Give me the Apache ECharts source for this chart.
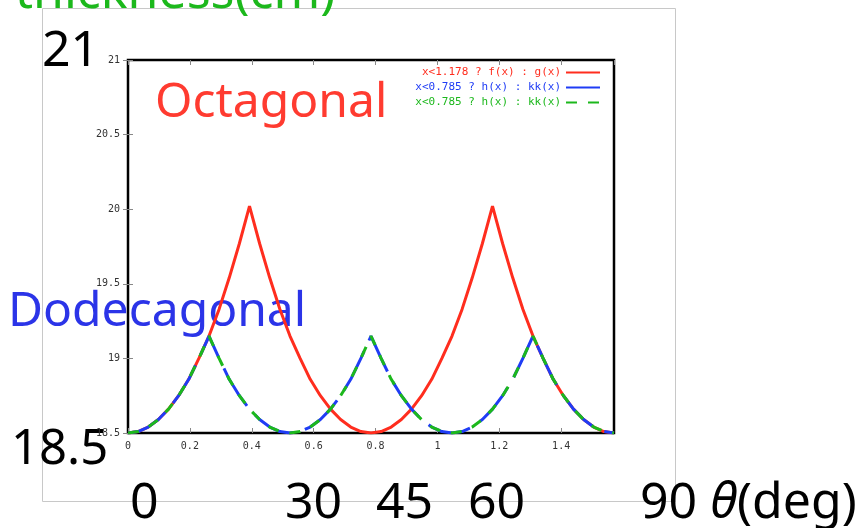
<!DOCTYPE html>
<html>
<head>
<meta charset="utf-8">
<script src="https://cdn.jsdelivr.net/npm/echarts@6/dist/echarts.min.js"></script>
<style>
  html, body { margin: 0; padding: 0; background: #fff; }
  #chart { width: 858px; height: 528px; }
</style>
</head>
<body>
<div id="chart"></div>
<script>
// theta (rad), sampled every pi/96
const thetaRad = [0, 0.0327, 0.0654, 0.0982, 0.1309, 0.1636, 0.1963, 0.2291, 0.2618, 0.2945, 0.3272,
  0.36, 0.3927, 0.4254, 0.4581, 0.4909, 0.5236, 0.5563, 0.589, 0.6218, 0.6545, 0.6872, 0.7199, 0.7527,
  0.7854, 0.8181, 0.8508, 0.8836, 0.9163, 0.949, 0.9817, 1.0145, 1.0472, 1.0799, 1.1126, 1.1454, 1.1781,
  1.2108, 1.2435, 1.2763, 1.309, 1.3417, 1.3744, 1.4072, 1.4399, 1.4726, 1.5053, 1.5381, 1.5708];
// thickness (cm)
const octagonal = [18.5, 18.51, 18.54, 18.59, 18.66, 18.75, 18.86, 19.0, 19.15, 19.33, 19.54, 19.77,
  20.02, 19.77, 19.54, 19.33, 19.15, 19.0, 18.86, 18.75, 18.66, 18.59, 18.54, 18.51,
  18.5, 18.51, 18.54, 18.59, 18.66, 18.75, 18.86, 19.0, 19.15, 19.33, 19.54, 19.77,
  20.02, 19.77, 19.54, 19.33, 19.15, 19.0, 18.86, 18.75, 18.66, 18.59, 18.54, 18.51, 18.5];
const dodecagonal = [18.5, 18.51, 18.54, 18.59, 18.66, 18.75, 18.86, 19.0, 19.15,
  19.0, 18.86, 18.75, 18.66, 18.59, 18.54, 18.51, 18.5,
  18.51, 18.54, 18.59, 18.66, 18.75, 18.86, 19.0, 19.15,
  19.0, 18.86, 18.75, 18.66, 18.59, 18.54, 18.51, 18.5,
  18.51, 18.54, 18.59, 18.66, 18.75, 18.86, 19.0, 19.15,
  19.0, 18.86, 18.75, 18.66, 18.59, 18.54, 18.51, 18.5];

const legendLabels = {
  oct: 'x<1.178 ? f(x) : g(x)',
  dode: 'x<0.785 ? h(x) : kk(x)',
  dodeDash: 'x<0.785 ? h(x) : kk(x)',
};
const degLabels = ['0', '30', '45', '60', '90'];

const RED = '#ff2d1e';
const BLUE = '#1f3cf5';
const GREEN = '#1cb81c';
const bigFont = 'Noto Sans';

const pairs = (ys) => thetaRad.map((x, i) => [x, ys[i]]);

const chart = echarts.init(document.getElementById('chart'));

const tickStyle = { inside: true, length: 5, lineStyle: { color: '#888', width: 1 } };
const labelStyle = { fontFamily: 'DejaVu Sans Mono', fontSize: 10, color: '#333' };

const degX = [130, 285, 376, 468, 640];

const option = {
  backgroundColor: '#fff',
  animation: false,
  grid: {
    left: 128, top: 60, right: 244, bottom: 95,
    show: true, borderColor: '#000', borderWidth: 2.5,
    backgroundColor: 'transparent',
  },
  legend: {
    orient: 'vertical',
    right: 257,
    top: 67,
    padding: 0,
    align: 'right',
    itemWidth: 34,
    itemHeight: 10,
    itemGap: 4,
    itemStyle: { opacity: 0 },
    data: [
      { name: 'oct', textStyle: { color: RED } },
      { name: 'dode', textStyle: { color: BLUE } },
      { name: 'dodeDash', textStyle: { color: GREEN } },
    ],
    formatter: (name) => legendLabels[name],
    textStyle: { fontFamily: 'DejaVu Sans Mono', fontSize: 11, padding: 0 },
  },
  xAxis: [
    {
      type: 'value', min: 0, max: 1.5708, interval: 0.2,
      axisLine: { show: false }, axisTick: tickStyle, splitLine: { show: false },
      axisLabel: { ...labelStyle, showMaxLabel: false, margin: 8 },
    },
    {
      type: 'value', position: 'top', min: 0, max: 1.5708, interval: 0.2,
      axisLine: { show: false }, axisTick: tickStyle, splitLine: { show: false },
      axisLabel: { show: false },
    },
  ],
  yAxis: [
    {
      type: 'value', min: 18.5, max: 21, interval: 0.5,
      axisLine: { show: false }, axisTick: tickStyle, splitLine: { show: false },
      axisLabel: { ...labelStyle, margin: 8 },
    },
    {
      type: 'value', position: 'right', min: 18.5, max: 21, interval: 0.5,
      axisLine: { show: false }, axisTick: tickStyle, splitLine: { show: false },
      axisLabel: { show: false },
    },
  ],
  series: [
    {
      name: 'oct', type: 'line', data: pairs(octagonal), symbol: 'none',
      lineStyle: { color: RED, width: 3 }, itemStyle: { color: RED },
    },
    {
      name: 'dode', type: 'line', data: pairs(dodecagonal), symbol: 'none',
      lineStyle: { color: BLUE, width: 3, type: [44, 12] }, itemStyle: { color: BLUE },
    },
    {
      name: 'dodeDash', type: 'line', data: pairs(dodecagonal), symbol: 'none',
      lineStyle: { color: GREEN, width: 3, type: [11, 11] }, itemStyle: { color: GREEN },
    },
  ],
  graphic: {
    z: -10,
    elements: [
      {
        type: 'rect', z: -10, silent: true,
        shape: { x: 42.5, y: 8.5, width: 633, height: 493 },
        style: { fill: 'none', stroke: '#c8c8c8', lineWidth: 1 },
      },
      {
        type: 'text', z: -10, x: 15, y: -6,
        style: { text: 'thickness(cm)', fill: GREEN, font: '50px ' + bigFont, verticalAlign: 'middle' },
      },
      {
        type: 'text', z: -10, x: 42, y: 52,
        style: { text: '21', fill: '#000', font: '50px ' + bigFont, verticalAlign: 'middle' },
      },
      {
        type: 'text', z: -10, x: 155, y: 103,
        style: { text: 'Octagonal', fill: '#ff3b30', font: '48px ' + bigFont, verticalAlign: 'middle' },
      },
      {
        type: 'text', z: -10, x: 8, y: 312,
        style: { text: 'Dodecagonal', fill: '#2b34e8', font: '48px ' + bigFont, verticalAlign: 'middle' },
      },
      {
        type: 'text', z: -10, x: 11, y: 450,
        style: { text: '18.5', fill: '#000', font: '49px ' + bigFont, verticalAlign: 'middle' },
      },
      ...degLabels.map((t, i) => ({
        type: 'text', z: -10, x: degX[i], y: 504,
        style: {
          text: i === degLabels.length - 1 ? '{n|' + t + '} {th|θ}{n|(deg)}' : t,
          fill: '#000', font: '50px ' + bigFont, verticalAlign: 'middle',
          rich: {
            n: { fontFamily: bigFont, fontSize: 50, fill: '#000' },
            th: { fontFamily: bigFont, fontSize: 50, fontStyle: 'italic', fill: '#000' },
          },
        },
      })),
    ],
  },
};

chart.setOption(option);
</script>
</body>
</html>
